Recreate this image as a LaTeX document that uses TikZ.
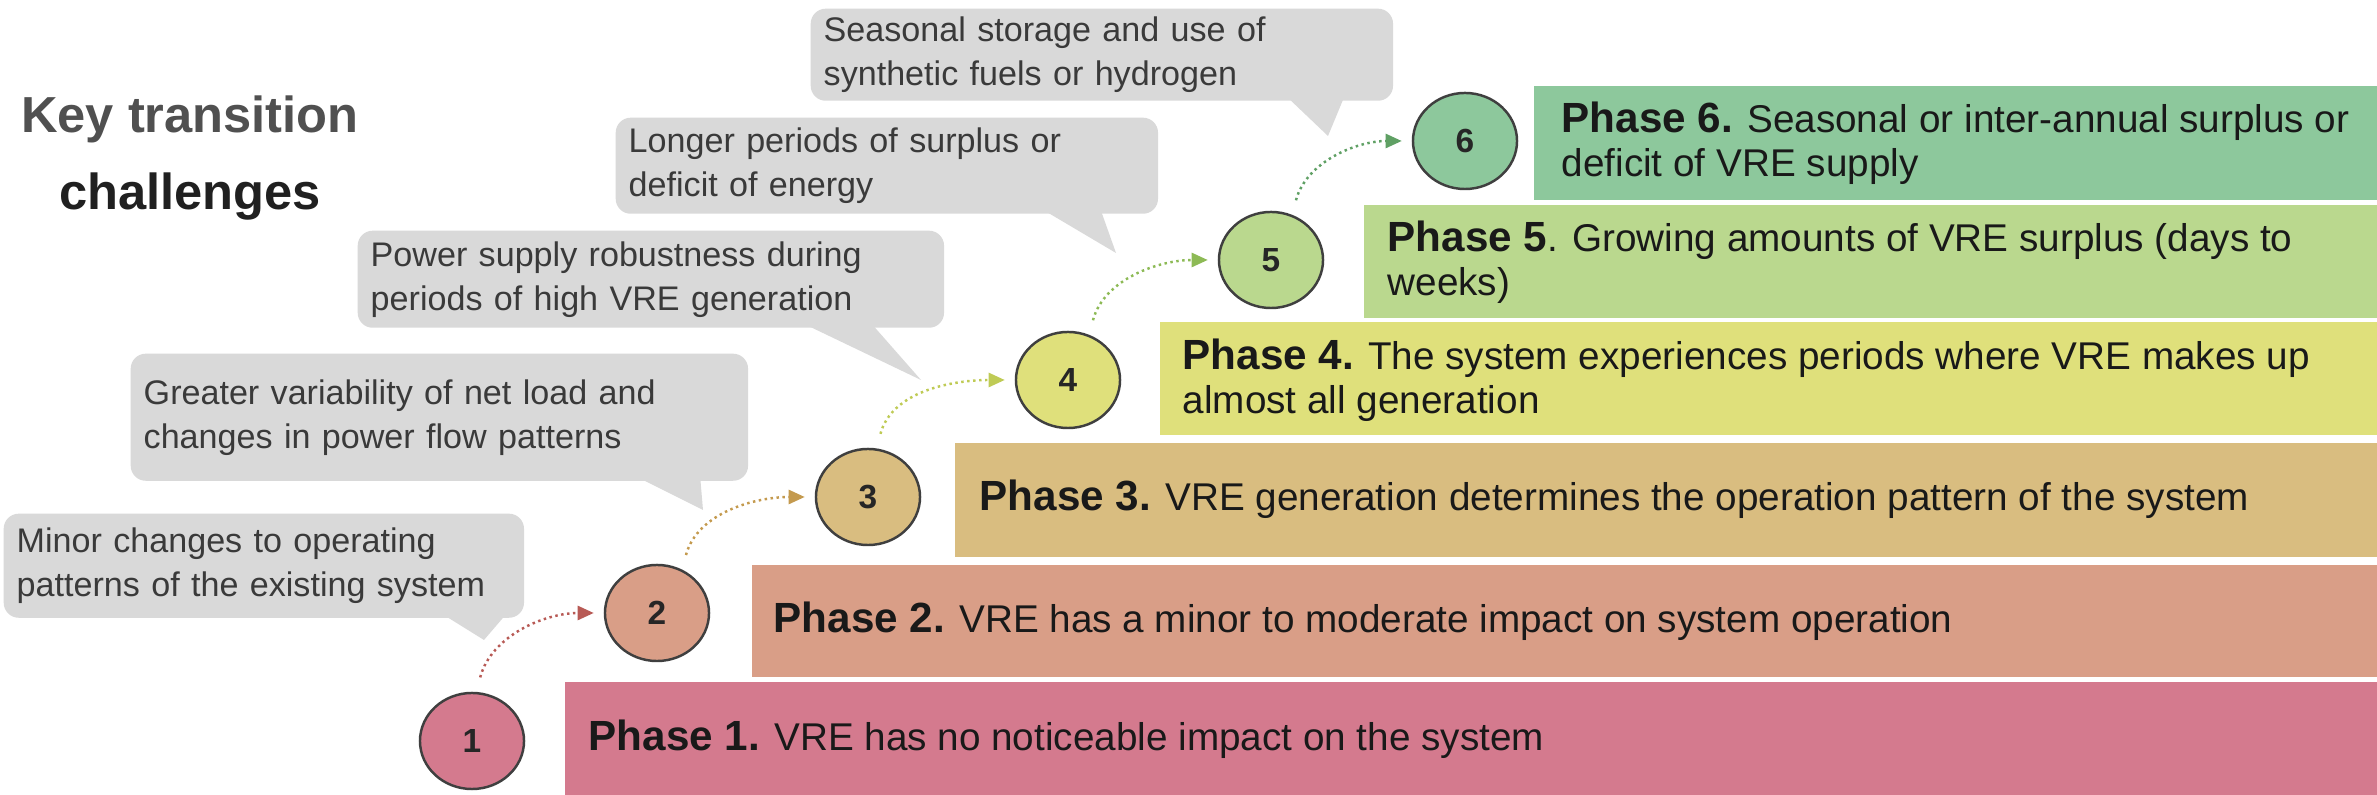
\documentclass[tikz,border=0pt]{standalone}
\usepackage{fontspec}
\setmainfont{Liberation Sans}
\usetikzlibrary{shapes.geometric,calc,arrows.meta}
\definecolor{p1}{HTML}{D47A8E}
\definecolor{p2}{HTML}{D99E87}
\definecolor{p3}{HTML}{D9BD80}
\definecolor{p4}{HTML}{DFE07B}
\definecolor{p5}{HTML}{BAD88E}
\definecolor{p6}{HTML}{8DC89C}
\definecolor{a1}{HTML}{B85A55}
\definecolor{a2}{HTML}{C49A4E}
\definecolor{a3}{HTML}{BFCB55}
\definecolor{a4}{HTML}{8DBA55}
\definecolor{a5}{HTML}{5FA064}
\definecolor{cg}{HTML}{D9D9D9}
\definecolor{ctext}{HTML}{3A3A3A}
\definecolor{circ}{HTML}{3F3F3F}
\definecolor{tg1}{HTML}{505050}
\definecolor{tg2}{HTML}{202020}
\newcommand\PhaseLbl[1]{{\fontsize{12}{15}\selectfont\bfseries #1}}
\begin{document}
\begin{tikzpicture}[x=0.01cm,y=-0.01cm,
  phase/.style={anchor=west, inner sep=0pt, align=left, text=black!90,
    font=\fontsize{11}{12.5}\selectfont},
  callout/.style={fill=cg, rounded corners=0.15cm, anchor=north west,
    inner xsep=0.13cm, inner ysep=0pt, align=left, text=ctext,
    font=\fontsize{9.7}{12.5}\selectfont},
  stage/.style={ellipse, draw=circ, line width=0.7pt, minimum width=1.04cm,
    minimum height=0.96cm, inner sep=0pt, text=black!85,
    font=\bfseries\fontsize{9.5}{10}\selectfont},
  arr/.style={densely dotted, line width=0.7pt, shorten <=0.15cm, shorten >=0.1cm,
    -{Triangle[length=0.16cm,width=0.14cm]}}
]
\useasboundingbox (0,0) rectangle (2377,795);
\fill[white] (0,0) rectangle (2377,795);

% staircase bars
\fill[p1] (565,682) rectangle (2377,795);
\fill[p2] (752,565) rectangle (2377,677);
\fill[p3] (955,443) rectangle (2377,557);
\fill[p4] (1160,322) rectangle (2377,435);
\fill[p5] (1364,205) rectangle (2377,318);
\fill[p6] (1534,86) rectangle (2377,200);

\node[phase] (ph1) at (588,739) {\PhaseLbl{Phase 1.} VRE has no noticeable impact on the system};
\node[phase] (ph2) at (773,621) {\PhaseLbl{Phase 2.} VRE has a minor to moderate impact on system operation};
\node[phase] (ph3) at (979,499) {\PhaseLbl{Phase 3.} VRE generation determines the operation pattern of the system};
\node[phase] (ph4) at (1182,380) {\PhaseLbl{Phase 4.} The system experiences periods where VRE makes up\\almost all generation};
\node[phase] (ph5) at (1387,262) {\PhaseLbl{Phase 5}. Growing amounts of VRE surplus (days to\\weeks)};
\node[phase] (ph6) at (1561,143) {\PhaseLbl{Phase 6.} Seasonal or inter-annual surplus or\\deficit of VRE supply};

% title
\node[align=center, font=\bfseries\fontsize{14.4}{22}\selectfont] (ttl) at (190,158)
  {\color{tg1}Key transition\\\color{tg2}challenges};

% callouts
\fill[cg] (439,612) -- (484,640) -- (508,612) -- cycle;
\node[callout, text width=4.94cm, minimum height=1.04cm] (q1) at (3,513)
  {Minor changes to operating\\patterns of the existing system};
\fill[cg] (633,475) -- (703,510) -- (700,475) -- cycle;
\node[callout, text width=5.91cm, minimum height=1.27cm] (q2) at (130,353)
  {Greater variability of net load and\\changes in power flow patterns};
\fill[cg] (800,322) -- (921,380) -- (870,322) -- cycle;
\node[callout, text width=5.60cm, minimum height=0.97cm] (q3) at (357,230)
  {Power supply robustness during\\periods of high VRE generation};
\fill[cg] (1040,208) -- (1116,253) -- (1100,208) -- cycle;
\node[callout, text width=5.16cm, minimum height=0.96cm] (q4) at (615,117)
  {Longer periods of surplus or\\deficit of energy};
\fill[cg] (1285,95) -- (1328,136) -- (1345,95) -- cycle;
\node[callout, text width=5.56cm, minimum height=0.92cm] (q5) at (810,8)
  {Seasonal storage and use of\\synthetic fuels or hydrogen};

% stage circles
\node[stage, fill=p1] (c1) at (472,741) {1};
\node[stage, fill=p2] (c2) at (657,613) {2};
\node[stage, fill=p3] (c3) at (868,497) {3};
\node[stage, fill=p4] (c4) at (1068,380) {4};
\node[stage, fill=p5] (c5) at (1271,260) {5};
\node[stage, fill=p6] (c6) at (1465,141) {6};

% connectors
\draw[arr, draw=a1] (c1.85) to[out=75,in=180] (c2.west);
\draw[arr, draw=a2] (c2.60) to[out=75,in=180] (c3.west);
\draw[arr, draw=a3] (c3.80) to[out=75,in=180] (c4.west);
\draw[arr, draw=a4] (c4.65) to[out=75,in=180] (c5.west);
\draw[arr, draw=a5] (c5.65) to[out=75,in=180] (c6.west);
\end{tikzpicture}
\end{document}
